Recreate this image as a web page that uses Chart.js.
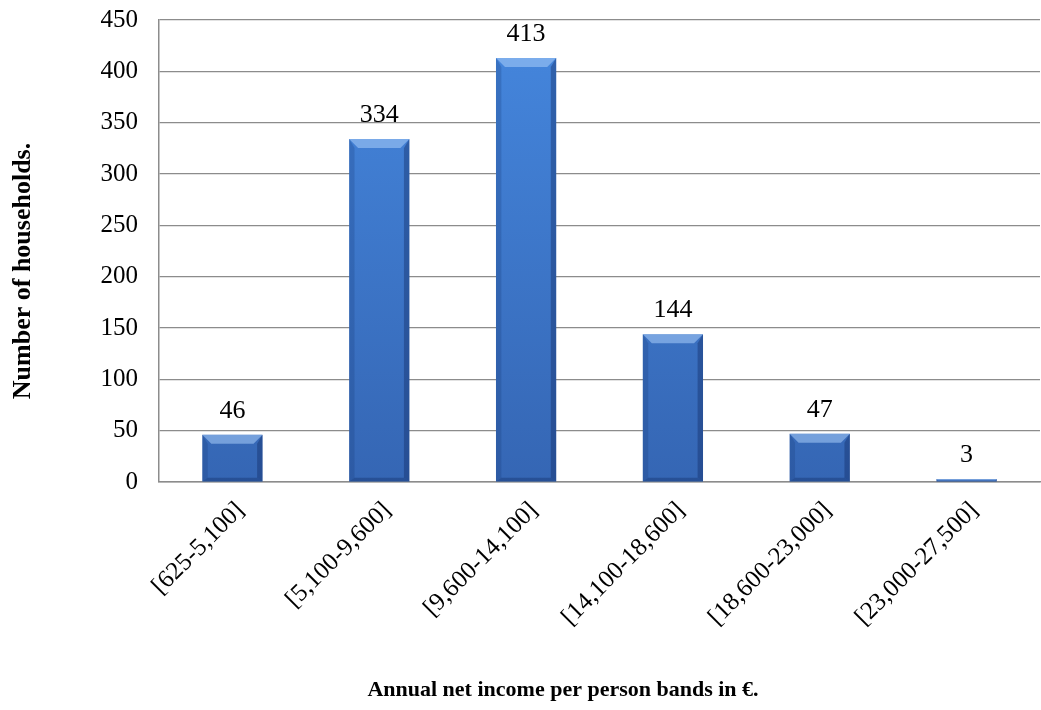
<!DOCTYPE html>
<html>
<head>
<meta charset="utf-8">
<title>Households by income band</title>
<script src="https://cdn.jsdelivr.net/npm/chart.js@4.4.1/dist/chart.umd.min.js"></script>
<style>
  html, body { margin: 0; padding: 0; background: #fff; }
  #wrap { width: 1041px; height: 710px; }
</style>
</head>
<body>
<div id="wrap"><canvas id="incomeChart" width="1041" height="710"></canvas></div>
<script>
    // income bands and household counts
    const bands = ['[625-5,100]', '[5,100-9,600]', '[9,600-14,100]', '[14,100-18,600]', '[18,600-23,000]', '[23,000-27,500]'];
    const households = [46, 334, 413, 144, 47, 3];
    const yTicks = [0, 50, 100, 150, 200, 250, 300, 350, 400, 450];
    const xTitle = 'Annual net income per person bands in €.';
    const yTitle = 'Number of households.';

    const serif = '"Liberation Serif", "Times New Roman", serif';

    // vertical gradient for the bar body
    function barFill(ctx) {
        const area = ctx.chart.chartArea;
        if (!area) return '#3d78cc';
        const g = ctx.chart.ctx.createLinearGradient(0, area.top, 0, area.bottom);
        g.addColorStop(0, '#4587de');
        g.addColorStop(1, '#3566b4');
        return g;
    }

    // bevelled edges and value labels on top of each bar
    const bevelPlugin = {
        id: 'bevel',
        afterDatasetsDraw(chart) {
            const ctx = chart.ctx;
            const meta = chart.getDatasetMeta(0);
            meta.data.forEach((bar, i) => {
                const p = bar.getProps(['x', 'y', 'base', 'width'], true);
                const l = p.x - p.width / 2, r = p.x + p.width / 2;
                const t = p.y, b = p.base;
                const h = b - t;
                const s = Math.min(9, h / 2);
                ctx.save();
                // top light bevel
                ctx.fillStyle = 'rgba(170,205,250,0.55)';
                ctx.beginPath();
                ctx.moveTo(l, t); ctx.lineTo(r, t); ctx.lineTo(r - s, t + s); ctx.lineTo(l + s, t + s);
                ctx.closePath(); ctx.fill();
                // left edge
                ctx.fillStyle = 'rgba(20,50,110,0.22)';
                ctx.beginPath();
                ctx.moveTo(l, t); ctx.lineTo(l + s * 0.6, t + s); ctx.lineTo(l + s * 0.6, b - s * 0.4); ctx.lineTo(l, b);
                ctx.closePath(); ctx.fill();
                // right edge
                ctx.fillStyle = 'rgba(15,40,95,0.38)';
                ctx.beginPath();
                ctx.moveTo(r, t); ctx.lineTo(r - s * 0.6, t + s); ctx.lineTo(r - s * 0.6, b - s * 0.4); ctx.lineTo(r, b);
                ctx.closePath(); ctx.fill();
                // bottom edge
                ctx.fillStyle = 'rgba(15,40,95,0.35)';
                ctx.beginPath();
                ctx.moveTo(l, b); ctx.lineTo(r, b); ctx.lineTo(r - s * 0.6, b - s * 0.4); ctx.lineTo(l + s * 0.6, b - s * 0.4);
                ctx.closePath(); ctx.fill();
                ctx.restore();

                // value label
                ctx.save();
                ctx.fillStyle = '#000';
                ctx.font = '26px ' + serif;
                ctx.textAlign = 'center';
                ctx.textBaseline = 'bottom';
                ctx.fillText(String(households[i]), p.x, t - 11);
                ctx.restore();
            });
        },
        // axis titles, placed by hand rather than centred on the plot
        afterDraw(chart) {
            const ctx = chart.ctx;
            ctx.save();
            ctx.fillStyle = '#000';
            ctx.textAlign = 'center';
            ctx.textBaseline = 'middle';
            ctx.font = 'bold 22px ' + serif;
            ctx.fillText(xTitle, chart.chartArea.left + 404, 690);
            ctx.translate(23, 271);
            ctx.rotate(-Math.PI / 2);
            ctx.font = 'bold 26px ' + serif;
            ctx.fillText(yTitle, 0, 0);
            ctx.restore();
        }
    };

    new Chart(document.getElementById('incomeChart').getContext('2d'), {
        type: 'bar',
        data: {
            labels: bands,
            datasets: [{
                data: households,
                backgroundColor: barFill,
                borderWidth: 0,
                categoryPercentage: 1,
                barPercentage: 0.41
            }]
        },
        options: {
            responsive: false,
            animation: false,
            layout: { padding: { top: 20, right: 1, left: 0, bottom: 0 } },
            plugins: {
                legend: { display: false },
                tooltip: { enabled: false }
            },
            scales: {
                x: {
                    grid: { display: false, drawTicks: false },
                    border: { color: '#8c8c8c', width: 1.5 },
                    ticks: {
                        color: '#000',
                        font: { family: serif, size: 25 },
                        maxRotation: 45,
                        minRotation: 45,
                        padding: 14,
                        labelOffset: 8
                    },
                    afterFit(scale) {
                        scale.height = 228;
                        scale.paddingTop = 0;
                    }
                },
                y: {
                    min: 0,
                    max: 450,
                    afterBuildTicks(scale) { scale.ticks = yTicks.map(v => ({ value: v })); },
                    grid: { color: '#8c8c8c', lineWidth: 1.2, drawTicks: false },
                    border: { color: '#8c8c8c', width: 1.5 },
                    ticks: {
                        color: '#000',
                        font: { family: serif, size: 25 },
                        padding: 21
                    },
                    afterFit(scale) {
                        scale.width = 159;
                        scale.paddingTop = 0;
                        scale.paddingBottom = 0;
                    }
                }
            }
        },
        plugins: [bevelPlugin]
    });
</script>
</body>
</html>
